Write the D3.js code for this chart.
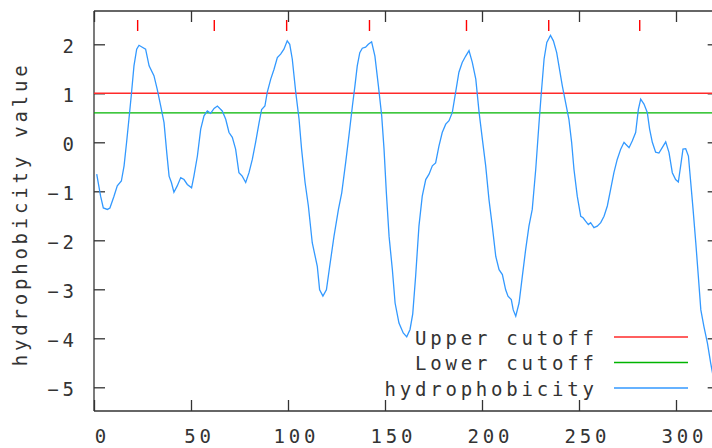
<!DOCTYPE html>
<html>
<head>
<meta charset="utf-8">
<script src="https://cdn.jsdelivr.net/npm/d3@7"></script>
<style>
  html, body { margin: 0; padding: 0; background: #fff; }
  svg { display: block; }
  text { font-family: "DejaVu Sans Mono", "Liberation Mono", monospace; fill: #333; }
</style>
</head>
<body>
<script>
// ---- data ----
const xTickValues = [0, 50, 100, 150, 200, 250, 300];
const yTickValues = [2, 1, 0, -1, -2, -3, -4, -5];
const upperCutoff = 1.0;
const lowerCutoff = 0.6;
const segmentMarks = [22.5, 62, 99.3, 142, 192, 234.4, 281.3];
const legendLabels = ["Upper cutoff", "Lower cutoff", "hydrophobicity"];
const yAxisTitle = "hydrophobicity value";

const residues = [
  1.4, 3.4, 4.8, 6.9, 8.2, 10.3, 12.0, 14.1, 15.5, 16.8, 18.0, 19.2, 20.6, 22.0, 23.2, 24.9, 26.6, 28.4, 30.9, 32.6,
  34.4, 36.1, 37.5, 38.7, 39.9, 41.2, 42.9, 44.7, 46.4, 48.1, 50.3, 51.5, 53.3, 55.0, 56.7, 58.4, 60.1, 61.9, 63.6, 66.1,
  67.9, 69.6, 71.3, 73.0, 74.7, 76.4, 78.2, 79.9, 81.6, 83.3, 85.1, 86.4, 88.1, 89.3, 91.1, 92.8, 94.5, 96.2, 97.9, 99.6,
  100.9, 102.2, 104.0, 105.7, 107.0, 108.8, 110.5, 112.5, 115.1, 116.3, 118.0, 119.8, 121.5, 123.7, 126.0, 127.7, 129.7, 131.4, 133.2, 134.5,
  135.7, 137.0, 138.3, 140.0, 141.4, 143.1, 144.8, 146.6, 148.3, 149.5, 150.7, 152.1, 153.8, 155.2, 157.2, 159.4, 161.2, 162.9, 164.3, 165.8,
  167.5, 169.2, 171.0, 172.7, 174.4, 176.1, 177.8, 179.5, 181.3, 183.0, 184.7, 186.4, 188.1, 189.8, 191.6, 193.3, 195.0, 196.8, 198.5, 200.2,
  201.9, 203.6, 205.3, 207.1, 208.8, 210.5, 212.2, 213.4, 215.1, 216.1, 217.4, 219.1, 220.8, 222.5, 224.2, 225.9, 227.7, 229.4, 230.6, 232.0,
  233.4, 235.3, 236.8, 238.5, 239.7, 241.4, 243.1, 244.8, 246.2, 247.4, 249.1, 250.9, 252.1, 253.4, 254.8, 256.0, 257.7, 259.4, 261.2, 262.9,
  264.6, 266.3, 268.0, 269.7, 271.5, 273.2, 274.1, 275.8, 277.5, 279.2, 280.6, 281.8, 283.5, 285.2, 286.4, 287.8, 289.5, 291.2, 292.9, 294.7,
  296.4, 298.1, 299.8, 301.2, 302.4, 303.6, 305.0, 306.4, 307.6, 308.8, 310.2, 311.5, 312.8, 314.4, 316.2, 317.9, 319.5
];
const hydrophobicity = [
  -0.65, -1.10, -1.34, -1.37, -1.34, -1.10, -0.89, -0.79, -0.48, 0.00, 0.47, 0.95, 1.56, 1.90, 1.98, 1.94, 1.90, 1.56, 1.36, 1.08,
  0.74, 0.40, -0.21, -0.69, -0.82, -1.02, -0.89, -0.72, -0.76, -0.86, -0.93, -0.69, -0.28, 0.27, 0.54, 0.64, 0.59, 0.69, 0.74, 0.64,
  0.47, 0.20, 0.10, -0.14, -0.62, -0.69, -0.82, -0.62, -0.35, 0.00, 0.40, 0.67, 0.74, 1.02, 1.29, 1.49, 1.73, 1.80, 1.90, 2.07,
  2.00, 1.70, 1.02, 0.47, -0.14, -0.82, -1.30, -2.05, -2.53, -3.01, -3.14, -3.01, -2.53, -1.92, -1.37, -1.03, -0.42, 0.13, 0.74, 1.15,
  1.56, 1.83, 1.92, 1.94, 2.00, 2.05, 1.76, 1.15, 0.54, -0.14, -1.03, -1.92, -2.60, -3.28, -3.69, -3.89, -3.97, -3.82, -3.50, -2.73,
  -1.71, -1.10, -0.76, -0.65, -0.48, -0.42, -0.08, 0.20, 0.37, 0.44, 0.61, 1.02, 1.43, 1.63, 1.76, 1.87, 1.63, 1.29, 0.61, 0.06,
  -0.48, -1.17, -1.71, -2.33, -2.60, -2.70, -3.01, -3.14, -3.21, -3.42, -3.55, -3.28, -2.73, -2.19, -1.71, -1.37, -0.55, 0.40, 1.02, 1.70,
  2.04, 2.18, 2.07, 1.83, 1.55, 1.15, 0.81, 0.47, 0.00, -0.55, -1.10, -1.51, -1.54, -1.61, -1.68, -1.64, -1.74, -1.71, -1.64, -1.51,
  -1.30, -0.96, -0.62, -0.35, -0.14, 0.00, -0.04, -0.11, 0.03, 0.20, 0.67, 0.88, 0.78, 0.61, 0.27, 0.00, -0.20, -0.22, -0.11, 0.01,
  -0.21, -0.62, -0.76, -0.81, -0.48, -0.14, -0.13, -0.28, -0.82, -1.37, -2.05, -2.73, -3.42, -3.76, -4.10, -4.51, -4.85
];

// ---- layout ----
const W = 712, H = 448;
const plotLeft = 94, plotTop = 11, plotBottom = 411;
const x = d3.scaleLinear().domain([0, 300]).range([plotLeft, 676]);
const plotRight = x(322);
const y = d3.scaleLinear().domain([-5, 2]).range([387.3, 44.3]);

const colors = { upper: "#ff2a2a", lower: "#00b400", hydro: "#3399ff", frame: "#333" };
const fontSize = 19, ls = 3.8;
const tickFmt = d => (d < 0 ? "\u2212" : "") + Math.abs(d);

const svg = d3.select("body").append("svg").attr("width", W).attr("height", H);

svg.append("defs").append("clipPath").attr("id", "plotclip")
  .append("rect").attr("x", plotLeft).attr("y", plotTop)
  .attr("width", plotRight - plotLeft).attr("height", plotBottom - plotTop);

// axes (ticks inward)
const axB = svg.append("g").attr("transform", `translate(0,${plotBottom})`)
  .call(d3.axisBottom(x).tickValues(xTickValues).tickFormat(tickFmt).tickSizeInner(-11).tickSizeOuter(0).tickPadding(22));
const axT = svg.append("g").attr("transform", `translate(0,${plotTop})`)
  .call(d3.axisTop(x).tickValues(xTickValues).tickSizeInner(-11).tickSizeOuter(0).tickFormat(""));
const axL = svg.append("g").attr("transform", `translate(${plotLeft},0)`)
  .call(d3.axisLeft(y).tickValues(yTickValues).tickFormat(tickFmt).tickSizeInner(-11).tickSizeOuter(0).tickPadding(20));
const axR = svg.append("g").attr("transform", `translate(${plotRight},0)`)
  .call(d3.axisRight(y).tickValues(yTickValues).tickSizeInner(-11).tickSizeOuter(0).tickFormat(""));

// extend frame lines to full plot box
axL.select("path.domain").attr("d", `M0,${plotTop}V${plotBottom}`);
axB.select("path.domain").attr("d", `M${plotLeft},0H${plotRight}`);
axT.select("path.domain").attr("d", `M${plotLeft},0H${plotRight}`);
axR.select("path.domain").attr("d", `M0,${plotTop}V${plotBottom}`);

[axB, axT, axL, axR].forEach(g => {
  g.selectAll("path.domain").attr("stroke", colors.frame).attr("stroke-width", 1.3);
  g.selectAll(".tick line").attr("stroke", colors.frame).attr("stroke-width", 1.3);
  g.selectAll("text").attr("font-family", "DejaVu Sans Mono").attr("font-size", fontSize)
    .attr("fill", "#333").style("letter-spacing", ls + "px");
});
axB.selectAll(".tick text").attr("dx", 6 + ls / 2).attr("dy", "0.71em").attr("y", 19);
axL.selectAll(".tick text").attr("x", -20 + ls).attr("dy", "0.42em");

// cutoff lines
const plot = svg.append("g").attr("clip-path", "url(#plotclip)");
plot.append("line").attr("x1", plotLeft).attr("x2", plotRight)
  .attr("y1", y(upperCutoff)).attr("y2", y(upperCutoff))
  .attr("stroke", colors.upper).attr("stroke-width", 1.6);
plot.append("line").attr("x1", plotLeft).attr("x2", plotRight)
  .attr("y1", y(lowerCutoff)).attr("y2", y(lowerCutoff))
  .attr("stroke", colors.lower).attr("stroke-width", 1.4);

// segment marks
plot.selectAll("line.mark").data(segmentMarks).join("line").attr("class", "mark")
  .attr("x1", d => x(d)).attr("x2", d => x(d)).attr("y1", 20).attr("y2", 31)
  .attr("stroke", "#ff0000").attr("stroke-width", 1.4);

// hydrophobicity line
const pts = residues.map((r, i) => [r, hydrophobicity[i]]);
plot.append("path").datum(pts)
  .attr("fill", "none").attr("stroke", colors.hydro).attr("stroke-width", 1.3)
  .attr("d", d3.line().x(d => x(d[0])).y(d => y(d[1])));

// legend
const legColors = [colors.upper, colors.lower, colors.hydro];
const legY = [337, 362.5, 388];
const leg = svg.append("g");
legendLabels.forEach((lab, i) => {
  leg.append("text").attr("x", 594 + ls).attr("y", legY[i] + 7.5).attr("text-anchor", "end")
    .attr("font-size", fontSize).style("letter-spacing", ls + "px").text(lab);
  leg.append("line").attr("x1", 614).attr("x2", 688).attr("y1", legY[i]).attr("y2", legY[i])
    .attr("stroke", legColors[i]).attr("stroke-width", 1.4);
});

// y axis title
svg.append("text").attr("transform", `translate(27,${212 + ls / 2}) rotate(-90)`)
  .attr("text-anchor", "middle").attr("font-size", fontSize).style("letter-spacing", ls + "px")
  .text(yAxisTitle);
</script>
</body>
</html>
